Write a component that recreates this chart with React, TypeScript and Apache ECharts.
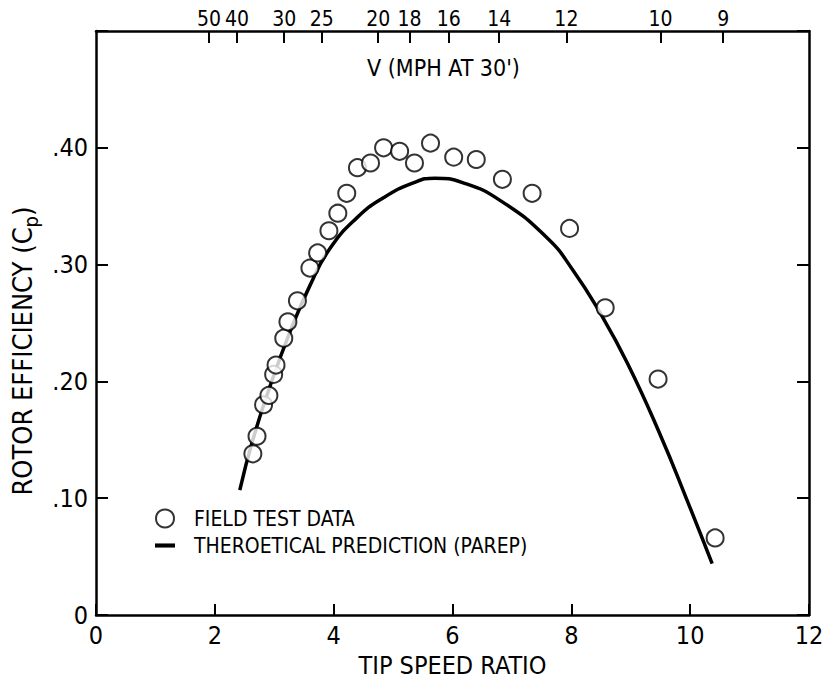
import React, { useEffect, useRef } from "react";
import * as echarts from "echarts";

// Field test data: [tip speed ratio, Cp]
const fieldTestData: [number, number][] = [
  [2.64, 0.138], [2.71, 0.153], [2.82, 0.180], [2.91, 0.188], [2.99, 0.206],
  [3.03, 0.214], [3.16, 0.237], [3.23, 0.251], [3.39, 0.269], [3.60, 0.297],
  [3.73, 0.310], [3.92, 0.329], [4.07, 0.344], [4.22, 0.361], [4.40, 0.383],
  [4.62, 0.387], [4.84, 0.400], [5.11, 0.397], [5.36, 0.387], [5.63, 0.404],
  [6.02, 0.392], [6.40, 0.390], [6.84, 0.373], [7.34, 0.361], [7.97, 0.331],
  [8.57, 0.263], [9.46, 0.202], [10.42, 0.066],
];

// Theoretical prediction (PAREP): [tip speed ratio, Cp]
const theoreticalData: [number, number][] = [
  [2.42, 0.107], [2.64, 0.150], [2.93, 0.196], [3.27, 0.243], [3.60, 0.282],
  [3.94, 0.314], [4.39, 0.340], [4.83, 0.357], [5.34, 0.370], [5.70, 0.374],
  [6.18, 0.370], [6.80, 0.355], [7.59, 0.323], [8.03, 0.295], [8.48, 0.259],
  [8.94, 0.216], [9.49, 0.155], [9.95, 0.098], [10.37, 0.044],
];

// Top axis: wind speed V (mph at 30 ft); tip speed ratio = K / V
const windSpeedTicks: number[] = [50, 40, 30, 25, 20, 18, 16, 14, 12, 10, 9];
const K_TSR_MPH = 95;

const FONT = "'Liberation Sans Narrow', 'DejaVu Sans Condensed', 'Liberation Sans', 'Noto Sans', sans-serif";

export default function App() {
  const ref = useRef<HTMLDivElement>(null);
  useEffect(() => {
    if (!ref.current) return;
    const chart = echarts.init(ref.current, undefined, { renderer: "svg" });
    const topPositions = windSpeedTicks.map((v) => K_TSR_MPH / v);
    const axisLine = { show: true, onZero: false, lineStyle: { color: "#000", width: 2.5 } };
    const tickStyle = { color: "#000", width: 2 };
    chart.setOption({
      animation: false,
      backgroundColor: "#fff",
      textStyle: { fontFamily: FONT, color: "#000" },
      grid: { left: 96, right: 13, top: 31, bottom: 70, containLabel: false, outerBoundsMode: "none" },
      legend: {
        orient: "vertical",
        left: 150,
        top: 503,
        padding: 5,
        itemWidth: 20,
        itemHeight: 18,
        itemGap: 6,
        textStyle: { fontFamily: FONT, fontSize: 21, lineHeight: 19, color: "#000", padding: [0, 0, 0, 14] },
        data: [
          { name: "FIELD TEST DATA" },
          { name: "THEROETICAL PREDICTION (PAREP)", icon: "path://M0 0H17V3.5H0Z" },
        ],
      },
      xAxis: [
        {
          type: "value",
          position: "bottom",
          min: 0,
          max: 12,
          interval: 2,
          name: "TIP SPEED RATIO",
          nameLocation: "middle",
          nameGap: 37,
          nameTextStyle: { fontFamily: FONT, fontSize: 25, color: "#000" },
          axisLine,
          axisTick: { show: true, inside: true, length: 11, lineStyle: tickStyle },
          axisLabel: { fontFamily: FONT, fontSize: 25, color: "#000", margin: 8 },
          splitLine: { show: false },
        },
        {
          type: "value",
          position: "top",
          min: 0,
          max: 12,
          axisLine,
          axisTick: { show: true, inside: true, length: 12, lineStyle: tickStyle, customValues: topPositions },
          axisLabel: {
            fontFamily: FONT,
            fontSize: 21,
            color: "#000",
            margin: 2,
            customValues: topPositions,
            formatter: (v: number) => String(Math.round(K_TSR_MPH / v)),
          },
          splitLine: { show: false },
        },
      ],
      yAxis: [
        {
          type: "value",
          position: "left",
          min: 0,
          max: 0.5,
          interval: 0.1,
          name: "ROTOR EFFICIENCY (C{p|p})",
          nameLocation: "middle",
          nameGap: 54,
          nameTextStyle: {
            fontFamily: FONT,
            fontSize: 27,
            color: "#000",
            padding: [0, 56, 0, 0],
            rich: { p: { fontFamily: FONT, fontSize: 20, color: "#000", padding: [18, 0, 0, 0] } },
          },
          axisLine,
          axisTick: { show: true, inside: true, length: 12, lineStyle: tickStyle },
          axisLabel: {
            fontFamily: FONT,
            fontSize: 25,
            color: "#000",
            margin: 8,
            formatter: (v: number) => (v >= 0.499 ? "" : v === 0 ? "0" : "." + String(Math.round(v * 100))),
          },
          splitLine: { show: false },
        },
        {
          type: "value",
          position: "right",
          min: 0,
          max: 0.5,
          interval: 0.1,
          axisLine,
          axisTick: { show: true, inside: true, length: 12, lineStyle: tickStyle },
          axisLabel: { show: false },
          splitLine: { show: false },
        },
      ],
      graphic: [
        {
          type: "text",
          left: 367,
          top: 56,
          style: { text: "V (MPH AT 30')", font: `23px ${FONT}`, fill: "#000" },
        },
      ],
      series: [
        {
          name: "THEROETICAL PREDICTION (PAREP)",
          type: "line",
          data: theoreticalData,
          smooth: 0.5,
          showSymbol: false,
          symbol: "none",
          lineStyle: { color: "#000", width: 3.5 },
          itemStyle: { color: "#000" },
          z: 2,
        },
        {
          name: "FIELD TEST DATA",
          type: "scatter",
          data: fieldTestData,
          symbol: "circle",
          symbolSize: 17,
          itemStyle: { color: "#fff", borderColor: "#000", borderWidth: 2 },
          z: 3,
        },
      ],
    });
    return () => chart.dispose();
  }, []);
  return (
    <div
      ref={ref}
      style={{ position: "fixed", left: 0, top: 0, width: 822, height: 685, background: "#fff" }}
    />
  );
}
